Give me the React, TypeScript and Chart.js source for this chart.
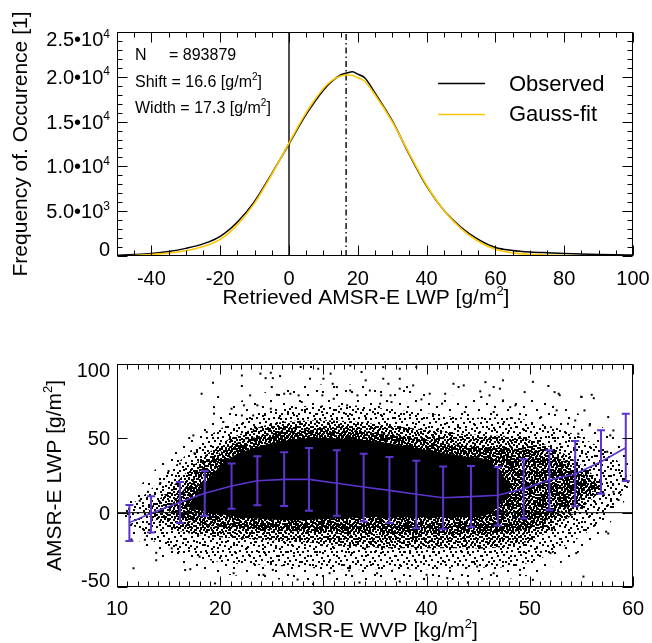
import React, { useEffect, useRef } from "react";
import { Chart, registerables } from "chart.js";
Chart.register(...registerables);

const FONT = '"Liberation Sans", Arial, Helvetica, sans-serif';
const PURPLE = "rgb(92, 52, 206)";
const YELLOW = "#ffc800";

// ---------------- top panel data ----------------
const lwpGrid = [-50, -45, -40, -35, -30, -25, -20, -15, -10, -5, 0, 5, 10, 12.5, 15, 17, 18.5, 20, 22, 25, 30, 35, 40, 45, 50, 55, 60, 65, 70, 75, 80, 85, 90, 95, 100];
const observedCounts = [80, 160, 280, 500, 850, 1350, 2200, 3800, 6100, 9200, 12500, 15800, 18500, 19500, 20200, 20450, 20550, 20300, 19900, 18200, 15100, 11300, 7800, 5100, 3200, 1850, 950, 620, 450, 360, 290, 230, 180, 140, 110];
const gaussCounts = [20, 60, 170, 320, 580, 1050, 1850, 3500, 5900, 9100, 12600, 16000, 18700, 19600, 20100, 20200, 20150, 19900, 19500, 18000, 15000, 11400, 7900, 5100, 3050, 1650, 750, 350, 180, 100, 60, 35, 20, 10, 5];
const sampleCount = 893879;
const shiftValue = 16.6;
const widthValue = 17.3;
const topXTicks = [-40, -20, 0, 20, 40, 60, 80, 100];
const topYTicks = [0, 5000, 10000, 15000, 20000, 25000];
const topYTickLabels = ["0", "5.0•10{3}", "1.0•10{4}", "1.5•10{4}", "2.0•10{4}", "2.5•10{4}"];

// ---------------- bottom panel data ----------------
const wvpBinCenters = [11.2, 13.3, 16.1, 18.5, 21.1, 23.6, 26.2, 28.6, 31.3, 33.9, 36.4, 39.0, 41.6, 44.3, 46.9, 49.4, 51.9, 54.4, 56.9, 59.3];
const lwpMean = [-6.7, -0.4, 7.0, 13.0, 18.0, 21.5, 22.4, 22.4, 19.8, 17.3, 15.0, 12.4, 10.0, 10.8, 11.7, 16.0, 22.0, 26.0, 34.3, 43.7];
const lwpUpper = [5.2, 11.0, 20.6, 28.0, 33.0, 38.0, 40.6, 43.5, 42.0, 39.7, 37.5, 35.0, 31.0, 31.4, 30.7, 36.0, 42.0, 48.2, 55.4, 66.6];
const lwpLower = [-19.0, -13.4, -7.0, -2.0, 2.7, 5.0, 4.5, 1.3, -2.0, -6.0, -7.0, -10.5, -11.2, -9.8, -8.7, -4.0, 1.6, 4.3, 12.8, 21.3];

// point-cloud density envelopes, from outermost (very sparse) to the solid core
const fringeWvp = [10.5, 11.5, 13, 15, 17, 19, 21, 23.5, 26, 28.5, 31, 33.5, 36, 38.5, 41, 43.5, 46, 48.5, 51, 53.5, 56, 58, 59.8];
const faintUpper = [0, 12, 24, 38, 52, 63, 72, 79, 84, 86, 86, 86, 84, 82, 80, 78, 78, 78, 75, 70, 62, 52, 35];
const faintLower = [0, -14, -24, -32, -37, -40, -42, -44, -45, -46, -46, -46, -46, -46, -46, -45, -45, -44, -40, -32, -20, -5, 15];
const sparseUpper = [0, 6, 14, 27, 41, 52, 60, 66, 70, 72, 72, 72, 70, 68, 66, 64, 64, 64, 60, 55, 47, 38, 25];
const sparseLower = [0, -8, -17, -24, -29, -32, -34, -35, -36, -37, -38, -38, -38, -38, -38, -37, -37, -36, -31, -22, -11, 3, 22];
const denseWvp = [13, 15, 17, 19, 21, 23.5, 26, 28.5, 31, 33.5, 36, 38.5, 41, 43.5, 46, 48.5, 51, 53, 55, 57];
const denseUpper = [2, 15, 29, 41, 50, 57, 61, 62, 62, 61, 59, 57, 55, 53, 52, 51, 47, 41, 32, 20];
const denseLower = [-2, -10, -14, -16, -17, -18, -19, -20, -22, -23, -24, -24, -24, -24, -24, -22, -16, -7, 3, 15];
const denserWvp = [15, 17, 19, 21, 23.5, 26, 28.5, 31, 33.5, 36, 38.5, 41, 43.5, 46, 48.5, 51, 53, 55, 56.5];
const denserUpper = [3, 20, 35, 45, 51, 55, 56, 56, 55, 53, 50, 48, 45, 44, 43, 41, 36, 27, 18];
const denserLower = [1, -6, -9, -10, -11, -12, -13, -14, -15, -15, -15, -15, -15, -15, -13, -8, 1, 10, 15];
const coreWvp = [17, 19, 21, 23.5, 26, 28.5, 31, 33.5, 36, 38.5, 41, 43.5, 46, 48];
const coreUpper = [6, 24, 37, 44, 48, 50, 50, 49, 47, 44, 41, 38, 35, 20];
const coreLower = [3, 0, -2, -4, -5, -5, -4, -3, -3, -3, -3, -3, -1, 12];

// individual outlying points
const outlierWvp = [19.3, 18.2, 22.1, 22.1, 19.8, 21.1, 19.4, 19.4, 20.3, 23.9, 24.4, 24.9, 25.1, 25.8, 25.0, 25.5, 26.2, 26.8, 27.6, 27.9, 28.7, 28.8, 27.8, 29.5, 30.0, 30.7, 30.9, 31.3, 32.6, 33.7, 34.1, 32.6, 33.3, 34.5, 29.9, 31.0, 32.3, 22.9, 23.6, 22.3, 22.1, 23.2, 24.9, 17.4, 17.0, 18.7,
  35.8, 37.4, 39.0, 35.8, 36.3, 37.4, 38.7, 38.1, 37.4, 36.5, 35.6, 36.6, 35.5, 39.5, 40.3, 41.8, 42.6, 43.1, 43.6, 45.7, 46.5, 47.1, 45.2, 45.3, 46.1, 47.4, 48.6, 49.5, 51.8, 52.4, 52.8, 55.0, 56.0, 41.5, 43.7, 46.5, 48.1, 51.1, 52.6, 55.3, 57.6, 58.1, 55.8, 53.7, 54.7, 54.4,
  11.6, 16.6, 17.1, 19.5, 21.3, 24.2, 25.1, 18.0, 13.8, 12.7, 11.4, 15.3, 30.6, 32.5, 35.2, 37.4, 40.0, 44.9, 46.5, 49.05, 50.3, 52.0, 54.5, 55.2, 57.4, 57.6, 58.6, 58.1, 57.5, 57.8, 56.2, 55.0, 52.9, 50.3, 47.4, 27.5, 29.0, 33.5, 42.0, 44.0, 12.2, 11.8, 13.0, 14.2, 15.0, 16.1, 17.5, 13.8];
const outlierLwp = [87.4, 80, 92.3, 85.2, 77.8, 69.9, 71, 66.6, 61, 93.5, 90.5, 94.1, 90.5, 91.9, 84.5, 79.3, 80, 80, 78.9, 74.4, 90.1, 98, 98, 96.8, 90.1, 93.5, 86.7, 84.5, 99, 94.6, 89, 82.2, 78.9, 82.2, 78.9, 76.6, 72.2, 78.9, 72.2, 72.2, 65.4, 65.4, 69.9, 52, 50.2, 54.2,
  97.9, 96.8, 97.9, 90.1, 86.7, 90.1, 85.6, 84.5, 83.4, 78.9, 78.9, 74.4, 73.3, 76.2, 80, 80, 86.7, 84.5, 85.6, 87.8, 84.5, 83.4, 81.6, 77.8, 78.9, 75.5, 72.2, 81.1, 85.2, 81.1, 80, 77.8, 79.3, 73.3, 67.7, 67.7, 71, 64.3, 68.8, 68.8, 64.3, 55.3, 58.7, 59.8, 53.1, 62,
  -37.4, -38.6, -38, -47.6, -40.7, -41.8, -38.5, -29.6, -27, -18.2, -18, -24, -40.7, -39, -40.7, -46.3, -41.8, -36.2, -40.7, -38.5, -45.2, -27.2, -27.2, -43, -12.8, -14, 8.5, 14, 41, 52, 77, 78, 79, 88, 89, -45, -48, -47, -44, -47, 8, -5, 14, 20, 28, 33, 40, -32];

const botXTicks = [10, 20, 30, 40, 50, 60];
const botYTicks = [-50, 0, 50, 100];

// ---------------- helpers ----------------
type Part = { t: string; sup: boolean };
function rich(s: string): Part[] {
  const out: Part[] = [];
  const re = /\{([^}]*)\}/g;
  let last = 0;
  let m: RegExpExecArray | null;
  while ((m = re.exec(s))) {
    if (m.index > last) out.push({ t: s.slice(last, m.index), sup: false });
    out.push({ t: m[1], sup: true });
    last = m.index + m[0].length;
  }
  if (last < s.length) out.push({ t: s.slice(last), sup: false });
  return out;
}
function drawRich(ctx: CanvasRenderingContext2D, s: string, x: number, y: number, align: "left" | "center" | "right", size: number) {
  const parts = rich(s);
  const supSize = Math.round(size * 0.62);
  const rise = size * 0.42;
  const widths = parts.map((p) => {
    ctx.font = `${p.sup ? supSize : size}px ${FONT}`;
    return ctx.measureText(p.t).width;
  });
  const total = widths.reduce((a, b) => a + b, 0);
  let cx = align === "left" ? x : align === "center" ? x - total / 2 : x - total;
  ctx.textAlign = "left";
  ctx.textBaseline = "alphabetic";
  parts.forEach((p, i) => {
    ctx.font = `${p.sup ? supSize : size}px ${FONT}`;
    ctx.fillText(p.t, cx, p.sup ? y - rise : y);
    cx += widths[i];
  });
}
function range(a: number, b: number, step: number) {
  const r: number[] = [];
  for (let v = a; v <= b + 1e-9; v += step) r.push(Math.round(v * 1000) / 1000);
  return r;
}
function drawFrame(chart: any, xMajor: number[], xMinor: number[], yMajor: number[], yMinor: number[]) {
  const { ctx, chartArea: a, scales } = chart;
  const x = scales.x, y = scales.y;
  const L = Math.round(a.left) + 0.5, R = Math.round(a.right) - 0.5, T = Math.round(a.top) + 0.5, B = Math.round(a.bottom) - 0.5;
  ctx.save();
  ctx.strokeStyle = "#000";
  ctx.lineWidth = 1;
  ctx.strokeRect(L, T, R - L, B - T);
  ctx.beginPath();
  const tx = (v: number, len: number) => {
    const p = Math.round(x.getPixelForValue(v)) + 0.5;
    ctx.moveTo(p, B); ctx.lineTo(p, B - len);
    ctx.moveTo(p, T); ctx.lineTo(p, T + len);
  };
  const ty = (v: number, len: number) => {
    const p = Math.round(y.getPixelForValue(v)) + 0.5;
    ctx.moveTo(L, p); ctx.lineTo(L + len, p);
    ctx.moveTo(R, p); ctx.lineTo(R - len, p);
  };
  xMajor.forEach((v) => tx(v, 10));
  xMinor.forEach((v) => tx(v, 5));
  yMajor.forEach((v) => ty(v, 10));
  yMinor.forEach((v) => ty(v, 5));
  ctx.stroke();
  ctx.restore();
}
function pts(xs: number[], ys: number[]) {
  return xs.map((v, i) => ({ x: v, y: ys[i] }));
}
function makePattern(ctx: CanvasRenderingContext2D, w: number, h: number, dots: number[][]) {
  const c = document.createElement("canvas");
  c.width = w; c.height = h;
  const g = c.getContext("2d")!;
  g.fillStyle = "#000";
  dots.forEach(([dx, dy]) => g.fillRect(dx, dy, 2, 2));
  return ctx.createPattern(c, "repeat")!;
}
// speckle textures (style only)
const TILE_FAINT = [[3, 2], [17, 5], [26, 1], [9, 11], [22, 14], [1, 17], [14, 20]];
const TILE_SPARSE = [[1, 2], [7, 0], [13, 3], [4, 7], [10, 6], [15, 9], [0, 12], [6, 11], [12, 13], [3, 16], [9, 17], [15, 15], [8, 3]];
const TILE_DENSE = [[0, 0], [4, 1], [8, 0], [11, 2], [2, 4], [6, 3], [9, 5], [0, 7], [4, 6], [7, 8], [11, 7], [2, 9], [9, 9], [5, 9]];
const TILE_DENSER = [[0, 0], [3, 1], [6, 0], [9, 2], [1, 3], [5, 4], [8, 5], [2, 6], [0, 8], [4, 7], [7, 8], [9, 9], [2, 10], [5, 11], [8, 11], [0, 11], [6, 2], [3, 9]];

// ---------------- plugins ----------------
const topDecor = {
  id: "topDecor",
  afterDatasetsDraw(chart: any) {
    const { ctx, chartArea: a, scales } = chart;
    const x = scales.x, y = scales.y;
    drawFrame(chart, topXTicks, range(-50, 100, 5).filter((v) => !topXTicks.includes(v)), topYTicks, range(0, 25000, 1000).filter((v) => !topYTicks.includes(v)));
    ctx.save();
    ctx.fillStyle = "#000";
    topXTicks.forEach((v) => drawRich(ctx, String(v), x.getPixelForValue(v), 285, "center", 20));
    topYTicks.forEach((v, i) => {
      const p = y.getPixelForValue(v);
      let base = p + 7;
      if (i === 0) base = a.bottom;
      if (i === topYTicks.length - 1) base = p + 14;
      drawRich(ctx, topYTickLabels[i], 110, base, "right", 20);
    });
    drawRich(ctx, "Retrieved AMSR-E LWP [g/m{2}]", 366, 304, "center", 21);
    ctx.save();
    ctx.translate(27, (a.top + a.bottom) / 2);
    ctx.rotate(-Math.PI / 2);
    drawRich(ctx, "Frequency of. Occurence [1]", 0, 0, "center", 21);
    ctx.restore();
    // statistics
    drawRich(ctx, "N", 135, 60, "left", 16);
    drawRich(ctx, "= " + sampleCount, 169, 60, "left", 16);
    drawRich(ctx, `Shift = ${shiftValue.toFixed(1)} [g/m{2}]`, 135, 86.5, "left", 16);
    drawRich(ctx, `Width = ${widthValue.toFixed(1)} [g/m{2}]`, 135, 113, "left", 16);
    // legend
    ctx.lineWidth = 1.5;
    ctx.strokeStyle = "#000";
    ctx.beginPath(); ctx.moveTo(438, 83.5); ctx.lineTo(485, 83.5); ctx.stroke();
    ctx.strokeStyle = YELLOW;
    ctx.beginPath(); ctx.moveTo(438, 114.5); ctx.lineTo(485, 114.5); ctx.stroke();
    drawRich(ctx, "Observed", 509, 91, "left", 22);
    drawRich(ctx, "Gauss-fit", 509, 121, "left", 22);
    ctx.restore();
  },
};

const botDecor = {
  id: "botDecor",
  afterDatasetsDraw(chart: any) {
    const { ctx, chartArea: a, scales } = chart;
    const x = scales.x, y = scales.y;
    // error bars
    ctx.save();
    ctx.strokeStyle = PURPLE;
    ctx.lineWidth = 2;
    ctx.beginPath();
    wvpBinCenters.forEach((w, i) => {
      const px = x.getPixelForValue(w);
      const pu = y.getPixelForValue(lwpUpper[i]);
      const pl = y.getPixelForValue(lwpLower[i]);
      ctx.moveTo(px, pu); ctx.lineTo(px, pl);
      ctx.moveTo(px - 4, pu); ctx.lineTo(px + 4, pu);
      ctx.moveTo(px - 4, pl); ctx.lineTo(px + 4, pl);
    });
    ctx.stroke();
    ctx.restore();
    drawFrame(chart, botXTicks, range(10, 60, 1).filter((v) => !botXTicks.includes(v)), botYTicks, []);
    ctx.save();
    ctx.fillStyle = "#000";
    const h = chart.height;
    botXTicks.forEach((v) => drawRich(ctx, String(v), x.getPixelForValue(v), h - 28, "center", 20));
    botYTicks.forEach((v, i) => {
      const p = y.getPixelForValue(v);
      let base = p + 7;
      if (i === 0) base = a.bottom;
      if (i === botYTicks.length - 1) base = p + 13;
      drawRich(ctx, String(v), 110, base, "right", 20);
    });
    drawRich(ctx, "AMSR-E WVP [kg/m{2}]", 375, h - 6, "center", 21);
    ctx.save();
    ctx.translate(61, (a.top + a.bottom) / 2);
    ctx.rotate(-Math.PI / 2);
    drawRich(ctx, "AMSR-E LWP [g/m{2}]", 0, 0, "center", 21);
    ctx.restore();
    ctx.restore();
  },
};

function hiddenAxis(min: number, max: number, fit: (s: any) => void) {
  return {
    type: "linear" as const,
    min, max,
    display: true,
    grid: { display: false },
    border: { display: false },
    ticks: { display: false },
    afterFit: fit,
  };
}

export default function App() {
  const topRef = useRef<HTMLCanvasElement>(null);
  const botRef = useRef<HTMLCanvasElement>(null);

  useEffect(() => {
    const topChart = new Chart(topRef.current!, {
      type: "line",
      data: {
        datasets: [
          { label: "Gauss-fit", data: pts(lwpGrid, gaussCounts), borderColor: YELLOW, borderWidth: 1.6, pointRadius: 0, cubicInterpolationMode: "monotone", fill: false, order: 1 },
          { label: "Observed", data: pts(lwpGrid, observedCounts), borderColor: "#000", borderWidth: 1.5, pointRadius: 0, cubicInterpolationMode: "monotone", fill: false, order: 2 },
          { label: "zero", data: [{ x: 0, y: 0 }, { x: 0, y: 25000 }], borderColor: "#000", borderWidth: 1.4, pointRadius: 0, fill: false, order: 3 },
          { label: "shift", data: [{ x: shiftValue, y: 0 }, { x: shiftValue, y: 25000 }], borderColor: "#000", borderWidth: 1.4, borderDash: [6, 3, 1.5, 3], pointRadius: 0, fill: false, order: 3 },
        ],
      },
      options: {
        responsive: false,
        animation: false,
        events: [],
        layout: { padding: { left: 0, right: 19, top: 32, bottom: 0 } },
        plugins: { legend: { display: false }, tooltip: { enabled: false } },
        scales: {
          x: hiddenAxis(-50, 100, (s: any) => { s.height = 64; }),
          y: hiddenAxis(0, 25000, (s: any) => { s.width = 117; }),
        },
      },
      plugins: [topDecor],
    } as any);

    const bctx = botRef.current!.getContext("2d")!;
    const patFaint = makePattern(bctx, 29, 23, TILE_FAINT);
    const patSparse = makePattern(bctx, 17, 19, TILE_SPARSE);
    const patDense = makePattern(bctx, 13, 11, TILE_DENSE);
    const patDenser = makePattern(bctx, 11, 13, TILE_DENSER);
    const clear = "rgba(0,0,0,0)";
    const band = (xs: number[], ys: number[], order: number, fill: any, bg: any) => ({
      data: pts(xs, ys), borderColor: clear, borderWidth: 1, pointRadius: 0, tension: 0.35, fill, backgroundColor: bg, order,
    });
    const botChart = new Chart(botRef.current!, {
      type: "line",
      data: {
        datasets: [
          band(fringeWvp, faintUpper, 40, false, clear),
          band(fringeWvp, faintLower, 39, "-1", patFaint),
          band(fringeWvp, sparseUpper, 38, false, clear),
          band(fringeWvp, sparseLower, 37, "-1", patSparse),
          band(denseWvp, denseUpper, 36, false, clear),
          band(denseWvp, denseLower, 35, "-1", patDense),
          band(denserWvp, denserUpper, 34, false, clear),
          band(denserWvp, denserLower, 33, "-1", patDenser),
          band(coreWvp, coreUpper, 32, false, clear),
          band(coreWvp, coreLower, 31, "-1", "#000"),
          { type: "scatter", data: pts(outlierWvp, outlierLwp), pointStyle: "rect", pointRadius: 1.42, borderWidth: 0, backgroundColor: "#000", order: 22 },
          { data: [{ x: 10, y: 0 }, { x: 60, y: 0 }], borderColor: "#000", borderWidth: 1, pointRadius: 0, fill: false, order: 21 },
          { data: pts(wvpBinCenters, lwpMean), borderColor: PURPLE, borderWidth: 1.6, pointRadius: 0, fill: false, order: 1 },
        ],
      },
      options: {
        responsive: false,
        animation: false,
        events: [],
        layout: { padding: { left: 0, right: 19, top: 44, bottom: 0 } },
        plugins: { legend: { display: false }, tooltip: { enabled: false } },
        scales: {
          x: hiddenAxis(10, 60, (s: any) => { s.height = 56; }),
          y: hiddenAxis(-50, 100, (s: any) => { s.width = 117; }),
        },
      },
      plugins: [botDecor],
    } as any);

    return () => {
      topChart.destroy();
      botChart.destroy();
    };
  }, []);

  return (
    <div style={{ position: "absolute", left: 0, top: 0, width: 652, height: 643, background: "#fff" }}>
      <canvas ref={topRef} width={652} height={320} style={{ position: "absolute", left: 0, top: 0 }} />
      <canvas ref={botRef} width={652} height={323} style={{ position: "absolute", left: 0, top: 320 }} />
    </div>
  );
}
